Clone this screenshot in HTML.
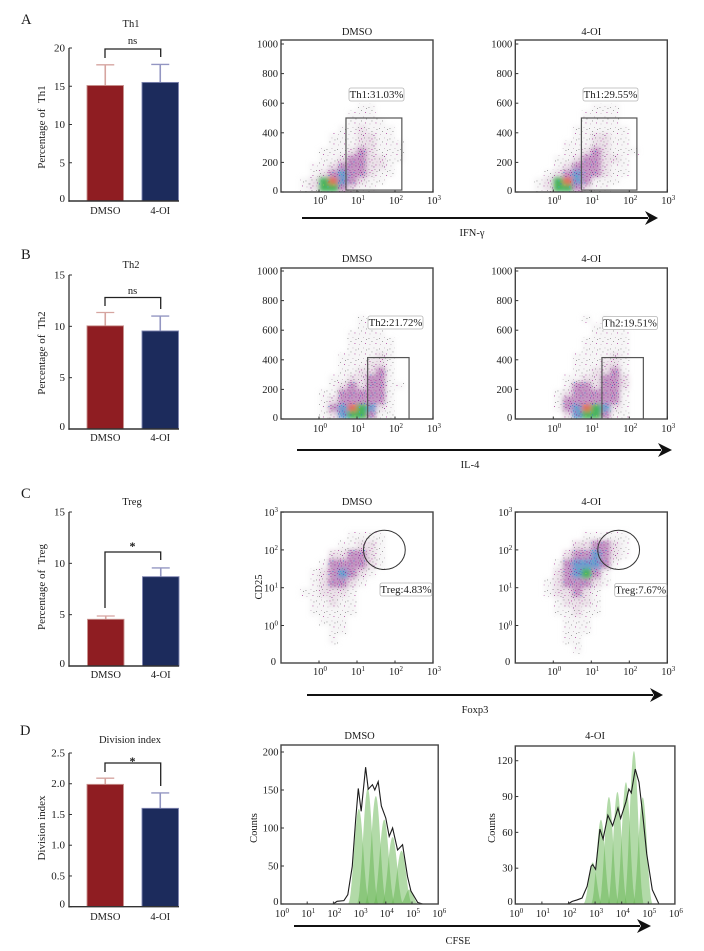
<!DOCTYPE html>
<html lang="en">
<head>
<meta charset="utf-8">
<title>T cell subsets and division index</title>
<style>
html,body{margin:0;padding:0;background:#fff;}
svg{display:block;filter:blur(0.35px);font-family:"Liberation Serif",serif;fill:#1a1a1a;}
</style>
</head>
<body>
<svg id="figure" width="704" height="951" viewBox="0 0 704 951" xmlns="http://www.w3.org/2000/svg">
<defs id="defs">
<filter id="soft" x="-20%" y="-20%" width="140%" height="140%"><feGaussianBlur stdDeviation="2.4"/></filter>
</defs>
</svg>
<script>
// ---------- bar chart data ----------
const barCategories = ['DMSO', '4-OI'];
const th1Means = [15.1, 15.5];
const th1ErrorTops = [17.8, 17.85];
const th1Ticks = [0, 5, 10, 15, 20];
const th2Means = [10.05, 9.55];
const th2ErrorTops = [11.35, 11.0];
const th2Ticks = [0, 5, 10, 15];
const tregMeans = [4.55, 8.7];
const tregErrorTops = [4.87, 9.55];
const tregTicks = [0, 5, 10, 15];
const divisionMeans = [1.99, 1.6];
const divisionErrorTops = [2.09, 1.85];
const divisionTicks = [0, 0.5, 1.0, 1.5, 2.0, 2.5];
const divisionTickLabels = ['0', '0.5', '1.0', '1.5', '2.0', '2.5'];

// ---------- flow cytometry axes ----------
const logTickDecades = [0, 1, 2, 3];
const linearTicks = [0, 200, 400, 600, 800, 1000];
const cd25TickDecades = [0, 1, 2, 3];

// ---------- density grids: rows bottom-up, columns 0.25 decade wide from 10^-1, level 0-6 ----------
const th1DmsoDensity = [
[0,0,1,2,5,5,3,2,1,1],
[0,0,1,2,5,6,4,3,2,1,1],
[0,0,0,1,2,3,4,3,3,2,1,1],
[0,0,0,1,1,2,3,3,3,2,2,1],
[0,0,0,0,1,1,2,3,3,2,2,1,1],
[0,0,0,0,1,1,1,2,3,2,1,1,1],
[0,0,0,0,0,1,1,1,2,2,1,1,1],
[0,0,0,0,0,1,1,1,2,2,1,1],
[0,0,0,0,0,0,1,1,2,1,1,1],
[0,0,0,0,0,0,0,1,1,1,1],
[0,0,0,0,0,0,0,1,1,1],
[0,0,0,0,0,0,0,0,1,1]
];
const th1OiDensity = [
[0,0,1,2,5,5,3,2,1,1],
[0,0,1,2,5,6,4,3,1,1,1],
[0,0,0,1,2,3,4,3,3,2,1,1],
[0,0,0,0,1,2,3,3,3,2,1,1],
[0,0,0,0,1,1,2,3,3,2,2,1],
[0,0,0,0,0,1,1,2,3,2,1,1,1],
[0,0,0,0,0,1,1,1,2,2,1,1],
[0,0,0,0,0,0,1,1,2,2,1,1],
[0,0,0,0,0,0,1,1,1,1,1,1],
[0,0,0,0,0,0,0,1,1,1,1],
[0,0,0,0,0,0,0,1,1,1,1],
[0,0,0,0,0,0,0,0,1,1,1]
];
const th2DmsoDensity = [
[0,0,0,0,1,2,4,5,5,3,1,1],
[0,0,0,0,1,3,4,6,5,4,2,1],
[0,0,0,0,1,2,3,3,3,3,3,1],
[0,0,0,0,1,1,3,3,3,3,3,1],
[0,0,0,0,0,1,2,3,2,3,3,1,1],
[0,0,0,0,0,1,1,2,2,3,3,1],
[0,0,0,0,0,0,1,1,2,2,3,1],
[0,0,0,0,0,0,1,1,1,2,2,1],
[0,0,0,0,0,0,1,1,1,1,2,1],
[0,0,0,0,0,0,0,1,1,1,1,1],
[0,0,0,0,0,0,0,1,1,1,1,1],
[0,0,0,0,0,0,0,1,1,1,1],
[0,0,0,0,0,0,0,0,1,1],
[0,0,0,0,0,0,0,0,1]
];
const th2OiDensity = [
[0,0,0,0,0,2,4,5,5,3,1,1],
[0,0,0,0,1,3,4,6,5,4,2,1],
[0,0,0,0,1,3,3,3,3,3,3,1],
[0,0,0,0,1,2,3,3,3,3,3,1],
[0,0,0,0,0,1,3,3,2,3,3,2],
[0,0,0,0,0,1,1,2,2,3,3,2],
[0,0,0,0,0,0,1,1,2,2,3,1],
[0,0,0,0,0,0,1,1,1,2,2,1],
[0,0,0,0,0,0,1,1,1,1,2,1],
[0,0,0,0,0,0,0,1,1,1,1,1],
[0,0,0,0,0,0,0,1,1,1,1,1],
[0,0,0,0,0,0,0,0,1,1,1,1],
[0,0,0,0,0,0,0,0,1,1,1],
[0,0,0,0,0,0,0,1,0,1]
];
const tregDmsoDensity = [
[0,0,0,0,0,0,0],
[0,0,0,0,0,0,0],
[0,0,0,0,0,1],
[0,0,0,0,0,1,1],
[0,0,0,0,1,1,1],
[0,0,0,1,1,1,1,1],
[0,0,0,1,1,2,1,1],
[0,0,1,1,2,2,2,1],
[0,0,0,1,2,3,3,2,1],
[0,0,0,1,2,3,4,3,2,1],
[0,0,0,0,1,3,3,3,3,2,1],
[0,0,0,0,0,2,2,3,3,2,1],
[0,0,0,0,0,0,1,1,2,2,1],
[0,0,0,0,0,0,0,1,1,1,1]
];
const tregOiDensity = [
[0,0,0,0,0,0,0],
[0,0,0,0,0,0,1],
[0,0,0,0,0,1,1],
[0,0,0,0,0,1,1,1],
[0,0,0,0,0,1,1,1],
[0,0,0,0,1,1,2,1,1],
[0,0,0,0,1,2,2,2,1],
[0,0,0,1,2,2,3,2,1],
[0,0,0,1,2,3,3,3,2,1],
[0,0,0,0,2,3,4,5,3,1],
[0,0,0,0,1,3,4,4,4,3,1],
[0,0,0,0,0,2,3,3,4,3,2,1],
[0,0,0,0,0,0,2,2,3,3,2,1],
[0,0,0,0,0,0,0,1,1,1,1,1]
];

// ---------- gates (data units) ----------
const th1DmsoGateX = [0.71, 2.18];
const th1OiGateX = [0.74, 2.2];
const th1GateY = [13, 500];
const th2DmsoGateX = [1.28, 2.37];
const th2OiGateX = [1.28, 2.37];
const th2GateY = [0, 415];
const tregGateCenter = [1.72, 2.0];
const tregGateRadius = [0.55, 0.52];

// ---------- CFSE histograms ----------
const histDecades = [0, 1, 2, 3, 4, 5, 6];
const dmsoCountTicks = [0, 50, 100, 150, 200];
const oiCountTicks = [0, 30, 60, 90, 120];
const dmsoPeakCenters = [2.97, 3.31, 3.62, 3.94, 4.26, 4.6, 4.9];
const dmsoPeakHeights = [125, 152, 142, 111, 88, 70, 19];
const dmsoPeakHalfWidths = [0.42, 0.42, 0.42, 0.42, 0.42, 0.42, 0.36];
const dmsoEnvelopeDecades = [1.99,2.14,2.40,2.55,2.72,2.85,2.95,3.06,3.23,3.33,3.49,3.58,3.71,3.83,4.0,4.13,4.26,4.45,4.64,4.83,4.96,5.22,5.41];
const dmsoEnvelopeCounts = [0,3.5,4.4,12.3,49.6,111,152,122,180,151,157,150,161,129,113,89,100,71,78,36,17,2,0];
const oiPeakCenters = [2.91, 3.22, 3.52, 3.84, 4.16, 4.46, 4.79];
const oiPeakHeights = [34.9, 70.6, 89.6, 93.8, 102, 128, 89.3];
const oiPeakHalfWidths = [0.36, 0.38, 0.38, 0.38, 0.38, 0.38, 0.38];
const oiEnvelopeDecades = [1.97,2.14,2.32,2.51,2.70,2.85,2.91,3.02,3.18,3.30,3.48,3.66,3.86,3.96,4.16,4.27,4.36,4.51,4.65,4.80,4.94,5.15,5.40];
const oiEnvelopeCounts = [0,2.2,3.4,5,14.8,31.6,33,29,62.8,54.4,74.3,65.6,80.4,71.7,85.6,96.3,93,113,102,73,42,12,0];

// ---------- helpers ----------
const NS = 'http://www.w3.org/2000/svg';
const root = document.getElementById('figure');
const defs = document.getElementById('defs');

function add(parent, tag, attrs, name) {
  const el = document.createElementNS(NS, tag);
  for (const k in attrs) el.setAttribute(k, attrs[k]);
  
  
  parent.appendChild(el);
  return el;
}
function label(parent, str, x, y, size, anchor, name, rot) {
  const attrs = {x: x, y: y, 'font-size': size, 'text-anchor': anchor || 'middle'};
  if (rot) attrs.transform = 'rotate(-90 ' + x + ' ' + y + ')';
  const el = add(parent, 'text', attrs, name);
  el.textContent = str;
  return el;
}
function powerLabel(parent, exp, x, y, anchor, name) {
  const el = add(parent, 'text', {x: x, y: y, 'font-size': 10.5, 'text-anchor': anchor}, name);
  const base = document.createElementNS(NS, 'tspan');
  base.textContent = '10';
  const sup = document.createElementNS(NS, 'tspan');
  sup.setAttribute('dy', '-4');
  sup.setAttribute('font-size', '7');
  sup.textContent = String(exp);
  el.appendChild(base);
  el.appendChild(sup);
  return el;
}
function line(parent, x1, y1, x2, y2, color, w, name) {
  return add(parent, 'line', {x1: x1, y1: y1, x2: x2, y2: y2, stroke: color, 'stroke-width': w}, name);
}

// ---------- stipple patterns ----------
const G = '#8f8f8f', P = '#b0409f', M = '#8a2a92', B = '#3a78c8', C = '#35b6cf', L = '#c7b5c4';
const stippleDots = {
  1: [[1,2,G],[6,1,L],[4,5,G],[8,7,P],[2,8,L],[9,3,G]],
  2: [[1,1,G],[4,2,P],[7,1,G],[9,4,L],[2,4,P],[5,5,G],[8,7,P],[1,7,L],[4,8,G],[6,9,M]],
  3: [[1,1,M],[3,2,P],[6,1,G],[8,2,P],[2,4,G],[4,4,M],[7,4,B],[9,5,P],[1,6,P],[3,7,B],[5,6,M],[7,7,G],[9,8,M],[2,9,M],[5,9,P]],
  4: [[1,1,C],[3,2,M],[6,1,B],[8,2,P],[2,4,B],[4,4,C],[7,4,B],[9,5,M],[1,6,M],[3,7,B],[5,6,C],[7,7,B],[9,8,C]],
  5: [[2,2,C],[6,2,'#4cc06a'],[4,5,B],[8,6,'#9ed24a'],[2,8,C]],
  6: [[3,3,'#e04a2c'],[7,6,'#f0a030']]
};
for (const lvl in stippleDots) {
  const pat = add(defs, 'pattern', {id: 'stipple-' + lvl, width: 10.5, height: 10.5, patternUnits: 'userSpaceOnUse'}, 'stipple-pattern-' + lvl);
  stippleDots[lvl].forEach(function (d) {
    add(pat, 'rect', {x: d[0], y: d[1], width: 0.9, height: 0.9, fill: d[2]}, 'stipple-dot');
  });
}
const levelColors = ['none', '#ddd8dc', '#d3bccf', '#aa66aa', '#4d80bf', '#45b25c', '#d8553a'];
const levelOpacity = [0, 0.25, 0.45, 0.7, 0.8, 1, 0.85];

// ---------- bar charts ----------
function barChart(cfg) {
  const g = add(root, 'g', {}, cfg.id + '-bar-chart');
  const ys = function (v) { return cfg.y0 - v * (cfg.y0 - cfg.yTop) / cfg.max; };
  label(g, cfg.letter, cfg.letterX, cfg.letterY, 14.5, 'start', 'panel-letter-' + cfg.letter.toLowerCase());
  label(g, cfg.title, cfg.titleX, cfg.titleY, 10.5, 'middle', cfg.id + '-chart-title');
  label(g, cfg.yLabel, cfg.yLabelX, cfg.yLabelY, 11, 'middle', cfg.id + '-y-axis-title', true);
  barCategories.forEach(function (cat, i) {
    const x = cfg.barX[i], top = ys(cfg.means[i]), cap = ys(cfg.errs[i]);
    const col = i === 0 ? '#d6a5a0' : '#9396c2';
    const cx = x + 18.25;
    line(g, cx, top, cx, cap, col, 1.6, cat.toLowerCase() + '-error-stem');
    line(g, cx - 9, cap, cx + 9, cap, col, 1.3, cat.toLowerCase() + '-error-cap');
    add(g, 'rect', {x: x, y: top, width: 36.5, height: ys(0) - top,
      fill: i === 0 ? '#8f1d22' : '#1c2b5c', stroke: i === 0 ? '#c9938f' : '#7f85b0', 'stroke-width': 0.9},
      'bar-' + cat.toLowerCase());
    label(g, cat, cx, cfg.catY, 10.5, 'middle', cat.toLowerCase() + '-category-label');
  });
  line(g, 69, cfg.yTop, 69, ys(0) + 0.7, '#333', 1.3, cfg.id + '-y-axis');
  line(g, 68.4, ys(0), 179, ys(0), '#333', 1.4, cfg.id + '-x-axis');
  cfg.ticks.forEach(function (t, i) {
    line(g, 69, ys(t), 72, ys(t), '#333', 1, 'y-tick');
    label(g, cfg.tickLabels ? cfg.tickLabels[i] : String(t), 65, ys(t) + (t === 0 ? 1 : 3.5), 11, 'end', 'y-tick-label');
  });
  const b = cfg.bracket;
  add(g, 'path', {d: 'M105 ' + b.left + 'V' + b.top + 'H160.7V' + b.right, fill: 'none', stroke: '#222', 'stroke-width': 1.3}, cfg.id + '-significance-bracket');
  label(g, cfg.sig, 132.5, b.sigY, cfg.sig === '*' ? 12 : 10.5, 'middle', cfg.id + '-significance-label').setAttribute('font-weight', cfg.sig === '*' ? 'bold' : 'normal');
}
barChart({id: 'th1', letter: 'A', letterX: 21, letterY: 24, title: 'Th1', titleX: 131, titleY: 27, yLabel: 'Percentage of\u00a0\u00a0Th1', yLabelX: 45, yLabelY: 127, means: th1Means, errs: th1ErrorTops, ticks: th1Ticks, max: 20, y0: 201, yTop: 48, barX: [87, 142], catY: 214, bracket: {top: 49, left: 58, right: 57, sigY: 44}, sig: 'ns'});
barChart({id: 'th2', letter: 'B', letterX: 21, letterY: 259, title: 'Th2', titleX: 131, titleY: 268, yLabel: 'Percentage of\u00a0\u00a0Th2', yLabelX: 45, yLabelY: 353, means: th2Means, errs: th2ErrorTops, ticks: th2Ticks, max: 15, y0: 429, yTop: 275, barX: [87, 142], catY: 441, bracket: {top: 297.5, left: 306, right: 309, sigY: 294}, sig: 'ns'});
barChart({id: 'treg', letter: 'C', letterX: 21, letterY: 498, title: 'Treg', titleX: 132, titleY: 505, yLabel: 'Percentage of\u00a0\u00a0Treg', yLabelX: 45, yLabelY: 587, means: tregMeans, errs: tregErrorTops, ticks: tregTicks, max: 15, y0: 666, yTop: 512, barX: [87.5, 142.5], catY: 678, bracket: {top: 552, left: 608, right: 560, sigY: 550}, sig: '*'});
barChart({id: 'division', letter: 'D', letterX: 20, letterY: 735, title: 'Division index', titleX: 130, titleY: 743, yLabel: 'Division index', yLabelX: 45, yLabelY: 828, means: divisionMeans, errs: divisionErrorTops, ticks: divisionTicks, tickLabels: divisionTickLabels, max: 2.5, y0: 906.7, yTop: 753, barX: [87, 142], catY: 920, bracket: {top: 763, left: 772, right: 786, sigY: 765}, sig: '*'});

// ---------- flow plots ----------
function flowPlot(cfg) {
  const g = add(root, 'g', {}, cfg.id + '-flow-plot');
  const left = cfg.left;
  const xs = function (d) { return left + (d + 1) * 38; };
  const ys = cfg.log
    ? function (d) { return cfg.y0dec - d * 37.8; }
    : function (v) { return cfg.bottom - v * 0.148; };
  const clipId = 'clip-' + cfg.id;
  const clip = add(defs, 'clipPath', {id: clipId}, clipId);
  add(clip, 'rect', {x: left, y: cfg.top, width: 152, height: cfg.bottom - cfg.top}, 'clip-box');
  const blurLayer = add(g, 'g', {filter: 'url(#soft)', 'clip-path': 'url(#' + clipId + ')'}, cfg.id + '-density-shading');
  const dotLayer = add(g, 'g', {'clip-path': 'url(#' + clipId + ')'}, cfg.id + '-event-dots');
  const rowLo = function (r) { return cfg.log ? -1 + r * 0.25 : r * 50; };
  [1, 2, 3, 4, 5, 6].forEach(function (pass) {
    cfg.density.forEach(function (row, r) {
      row.forEach(function (lvl, c) {
        if (lvl !== pass) return;
        const x1 = xs(-1 + c * 0.25), x2 = xs(-1 + (c + 1) * 0.25);
        const y1 = ys(rowLo(r + 1)), y2 = ys(rowLo(r));
        add(blurLayer, 'rect', {x: x1, y: y1, width: x2 - x1, height: y2 - y1, fill: levelColors[lvl], 'fill-opacity': levelOpacity[lvl]}, 'density-cell');
        add(dotLayer, 'rect', {x: x1, y: y1, width: x2 - x1, height: y2 - y1, fill: 'url(#stipple-' + lvl + ')'}, 'density-dots');
      });
    });
  });
  add(g, 'rect', {x: left, y: cfg.top, width: 152, height: cfg.bottom - cfg.top, fill: 'none', stroke: '#444', 'stroke-width': 1.4}, cfg.id + '-plot-frame');
  label(g, cfg.title, left + 76, cfg.titleY, 10.5, 'middle', cfg.id + '-title');
  logTickDecades.forEach(function (d) {
    line(g, xs(d), cfg.bottom, xs(d), cfg.bottom - 2.5, '#333', 1, 'x-tick');
    powerLabel(g, d, xs(d) + 1, cfg.xLabelY, 'middle', 'x-tick-label');
  });
  if (cfg.log) {
    cd25TickDecades.forEach(function (d) {
      line(g, left, ys(d), left + 3, ys(d), '#333', 1, 'y-tick');
      powerLabel(g, d, left - 3, ys(d) + 4, 'end', 'y-tick-label');
    });
    label(g, '0', left - 5, cfg.bottom + 2, 10.5, 'end', 'y-tick-label');
  } else {
    linearTicks.forEach(function (v) {
      line(g, left, ys(v), left + 3, ys(v), '#333', 1, 'y-tick');
      label(g, String(v), left - 3, ys(v) + (v === 0 ? 2 : 3.5), 10.5, 'end', 'y-tick-label');
    });
  }
  if (cfg.gateX) {
    add(g, 'rect', {x: xs(cfg.gateX[0]), y: ys(cfg.gateY[1]), width: xs(cfg.gateX[1]) - xs(cfg.gateX[0]), height: ys(cfg.gateY[0]) - ys(cfg.gateY[1]), fill: 'none', stroke: '#555', 'stroke-width': 1.2}, cfg.id + '-gate-rectangle');
  } else {
    add(g, 'ellipse', {cx: xs(tregGateCenter[0]), cy: ys(tregGateCenter[1]), rx: tregGateRadius[0] * 38, ry: tregGateRadius[1] * 37.8, fill: 'none', stroke: '#333', 'stroke-width': 1}, cfg.id + '-gate-circle');
  }
  const lb = cfg.tag;
  add(g, 'rect', {x: lb.x, y: lb.y, width: lb.w, height: 13, rx: 2, fill: '#fff', stroke: '#b5b5b5', 'stroke-width': 0.8}, cfg.id + '-gate-label-box');
  label(g, lb.text, lb.x + lb.w / 2, lb.y + 10, 10.8, 'middle', cfg.id + '-gate-label');
}
flowPlot({id: 'th1-dmso', title: 'DMSO', titleY: 35, left: 281, top: 40, bottom: 192, xLabelY: 204, density: th1DmsoDensity, gateX: th1DmsoGateX, gateY: th1GateY, tag: {x: 349, y: 88, w: 55, text: 'Th1:31.03%'}});
flowPlot({id: 'th1-oi', title: '4-OI', titleY: 35, left: 515.3, top: 40, bottom: 192, xLabelY: 204, density: th1OiDensity, gateX: th1OiGateX, gateY: th1GateY, tag: {x: 583, y: 88, w: 55, text: 'Th1:29.55%'}});
flowPlot({id: 'th2-dmso', title: 'DMSO', titleY: 262, left: 281, top: 268, bottom: 419, xLabelY: 432, density: th2DmsoDensity, gateX: th2DmsoGateX, gateY: th2GateY, tag: {x: 368, y: 316, w: 55, text: 'Th2:21.72%'}});
flowPlot({id: 'th2-oi', title: '4-OI', titleY: 262, left: 515.3, top: 268, bottom: 419, xLabelY: 432, density: th2OiDensity, gateX: th2OiGateX, gateY: th2GateY, tag: {x: 602.5, y: 316.5, w: 55, text: 'Th2:19.51%'}});
flowPlot({id: 'treg-dmso', title: 'DMSO', titleY: 505, left: 281, top: 512, bottom: 663, xLabelY: 675, log: true, y0dec: 625.5, density: tregDmsoDensity, tag: {x: 380, y: 583, w: 52, text: 'Treg:4.83%'}});
flowPlot({id: 'treg-oi', title: '4-OI', titleY: 505, left: 515.3, top: 512, bottom: 663, xLabelY: 675, log: true, y0dec: 625.5, density: tregOiDensity, tag: {x: 614.7, y: 583.5, w: 52, text: 'Treg:7.67%'}});

// ---------- histograms ----------
function histogram(cfg) {
  const g = add(root, 'g', {}, cfg.id + '-histogram');
  const xs = function (d) { return cfg.left + d * cfg.step; };
  const ys = function (v) { return cfg.bottom - v * cfg.perCount; };
  const peaks = add(g, 'g', {}, cfg.id + '-division-peaks');
  cfg.centers.forEach(function (c, i) {
    const xc = xs(c), hw = cfg.widths[i] * cfg.step, y0 = ys(0), ya = ys(cfg.heights[i]);
    const d = 'M' + (xc - hw) + ' ' + y0 +
      'C' + (xc - hw * 0.55) + ' ' + y0 + ' ' + (xc - hw * 0.35) + ' ' + ya + ' ' + xc + ' ' + ya +
      'C' + (xc + hw * 0.35) + ' ' + ya + ' ' + (xc + hw * 0.55) + ' ' + y0 + ' ' + (xc + hw) + ' ' + y0 + 'Z';
    add(peaks, 'path', {d: d, fill: '#65b552', 'fill-opacity': 0.5}, 'generation-peak-' + i);
  });
  const pts = cfg.envX.map(function (d, i) { return xs(d) + ',' + ys(cfg.envY[i]); }).join(' ');
  add(g, 'polyline', {points: pts, fill: 'none', stroke: '#1c1c1c', 'stroke-width': 1.1}, cfg.id + '-total-fit-line');
  add(g, 'rect', {x: cfg.left, y: cfg.top, width: cfg.step * 6, height: cfg.bottom - cfg.top, fill: 'none', stroke: '#444', 'stroke-width': 1.4}, cfg.id + '-plot-frame');
  label(g, cfg.title, cfg.left + cfg.step * 3, 739, 10.5, 'middle', cfg.id + '-title');
  histDecades.forEach(function (d) {
    if (d > 0 && d < 6) line(g, xs(d), cfg.bottom, xs(d), cfg.bottom - 2.5, '#333', 1, 'x-tick');
    powerLabel(g, d, xs(d) + 1, 917, 'middle', 'x-tick-label');
  });
  cfg.yTicks.forEach(function (v) {
    line(g, cfg.left, ys(v), cfg.left + 3, ys(v), '#333', 1, 'y-tick');
    label(g, String(v), cfg.left - 2.5, ys(v) + (v === 0 ? 1 : 3.5), 10.5, 'end', 'y-tick-label');
  });
  label(g, 'Counts', cfg.countsX, 828, 10.5, 'middle', cfg.id + '-y-axis-title', true);
}
histogram({id: 'cfse-dmso', title: 'DMSO', left: 281, step: 26.2, top: 745, bottom: 904, perCount: 0.76, centers: dmsoPeakCenters, heights: dmsoPeakHeights, widths: dmsoPeakHalfWidths, envX: dmsoEnvelopeDecades, envY: dmsoEnvelopeCounts, yTicks: dmsoCountTicks, countsX: 257});
histogram({id: 'cfse-oi', title: '4-OI', left: 515.3, step: 26.6, top: 746, bottom: 904, perCount: 1.194, centers: oiPeakCenters, heights: oiPeakHeights, widths: oiPeakHalfWidths, envX: oiEnvelopeDecades, envY: oiEnvelopeCounts, yTicks: oiCountTicks, countsX: 495});

// ---------- arrows and marker titles ----------
function arrow(id, x1, headStart, tip, y, text, textX) {
  const g = add(root, 'g', {}, id + '-axis-arrow');
  line(g, x1, y, headStart + 3, y, '#111', 2, id + '-arrow-line');
  add(g, 'polygon', {points: headStart + ',' + (y - 7) + ' ' + tip + ',' + y + ' ' + headStart + ',' + (y + 7) + ' ' + (headStart + 4) + ',' + y, fill: '#111'}, id + '-arrow-head');
  label(g, text, textX, y + 18, 10.5, 'middle', id + '-marker-label');
}
arrow('ifn-gamma', 302, 645, 658, 218, 'IFN-γ', 472);
arrow('il-4', 297, 658, 672, 450, 'IL-4', 470);
arrow('foxp3', 307, 650, 663, 695, 'Foxp3', 475);
arrow('cfse', 294, 637, 651, 926, 'CFSE', 458);
label(root, 'CD25', 262, 587, 10.5, 'middle', 'cd25-y-axis-title', true);
</script>
</body>
</html>
